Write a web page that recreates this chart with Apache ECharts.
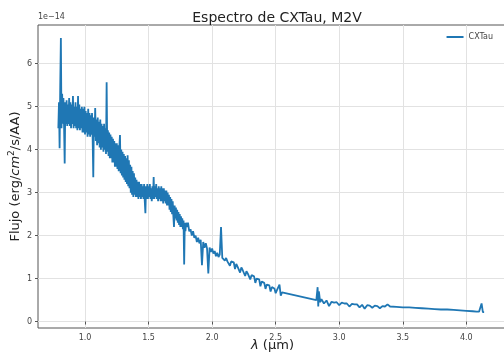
<!DOCTYPE html>
<html>
<head>
<meta charset="utf-8">
<script src="https://cdn.jsdelivr.net/npm/echarts@6/dist/echarts.min.js"></script>
<style>
  html, body { margin: 0; padding: 0; background: #fff; }
  #chart { width: 504px; height: 358px; }
</style>
</head>
<body>
<div id="chart"></div>
<script>
// Wavelength samples (µm) of the CXTau spectrum
const wavelength = [
  0.790, 0.795, 0.800, 0.805, 0.810, 0.815, 0.820, 0.825, 0.830, 0.835,
  0.840, 0.845, 0.850, 0.855, 0.860, 0.865, 0.870, 0.875, 0.880, 0.885,
  0.890, 0.895, 0.900, 0.905, 0.910, 0.915, 0.920, 0.925, 0.930, 0.935,
  0.940, 0.945, 0.950, 0.955, 0.960, 0.965, 0.970, 0.975, 0.980, 0.985,
  0.990, 0.995, 1.000, 1.005, 1.010, 1.015, 1.020, 1.025, 1.030, 1.035,
  1.040, 1.045, 1.050, 1.055, 1.060, 1.065, 1.070, 1.075, 1.080, 1.085,
  1.090, 1.095, 1.100, 1.105, 1.110, 1.115, 1.120, 1.125, 1.130, 1.135,
  1.140, 1.145, 1.150, 1.155, 1.160, 1.165, 1.170, 1.175, 1.180, 1.185,
  1.190, 1.195, 1.200, 1.205, 1.210, 1.215, 1.220, 1.225, 1.230, 1.235,
  1.240, 1.245, 1.250, 1.255, 1.260, 1.265, 1.270, 1.275, 1.280, 1.285,
  1.290, 1.295, 1.300, 1.305, 1.310, 1.315, 1.320, 1.325, 1.330, 1.335,
  1.340, 1.345, 1.350, 1.355, 1.360, 1.365, 1.370, 1.375, 1.380, 1.385,
  1.390, 1.395, 1.400, 1.405, 1.410, 1.415, 1.420, 1.425, 1.430, 1.435,
  1.440, 1.445, 1.450, 1.455, 1.460, 1.465, 1.470, 1.475, 1.480, 1.485,
  1.490, 1.495, 1.500, 1.505, 1.510, 1.515, 1.520, 1.525, 1.530, 1.535,
  1.540, 1.545, 1.550, 1.555, 1.560, 1.565, 1.570, 1.575, 1.580, 1.585,
  1.590, 1.595, 1.600, 1.605, 1.610, 1.615, 1.620, 1.625, 1.630, 1.635,
  1.640, 1.645, 1.650, 1.655, 1.660, 1.665, 1.670, 1.675, 1.680, 1.685,
  1.690, 1.695, 1.700, 1.705, 1.710, 1.715, 1.720, 1.725, 1.730, 1.735,
  1.740, 1.745, 1.750, 1.755, 1.760, 1.765, 1.770, 1.775, 1.780, 1.785,
  1.790, 1.795,
  1.80, 1.81, 1.82, 1.83, 1.84, 1.85, 1.86, 1.87, 1.88, 1.89,
  1.90, 1.91, 1.92, 1.93, 1.94, 1.95, 1.96, 1.97, 1.98, 1.99,
  2.00, 2.01, 2.02, 2.03, 2.04, 2.05, 2.06, 2.07, 2.08, 2.09,
  2.10, 2.11, 2.12, 2.13, 2.14, 2.15, 2.16, 2.17, 2.18, 2.19,
  2.20, 2.21, 2.22, 2.23, 2.24, 2.25, 2.26, 2.27, 2.28, 2.29,
  2.30, 2.31, 2.32, 2.33, 2.34, 2.35, 2.36, 2.37, 2.38, 2.39,
  2.40, 2.41, 2.42, 2.43, 2.44, 2.45, 2.46, 2.47, 2.48, 2.49,
  2.50, 2.51, 2.52, 2.53, 2.54, 2.55,
  2.82, 2.83, 2.835, 2.84, 2.85, 2.86, 2.88,
  2.90, 2.92, 2.94, 2.96, 2.98, 3.00, 3.02, 3.04, 3.06, 3.08,
  3.10, 3.12, 3.14, 3.16, 3.18, 3.20, 3.22, 3.24, 3.26, 3.28,
  3.30, 3.32, 3.34, 3.36, 3.38, 3.40, 3.45, 3.50, 3.55, 3.60,
  3.65, 3.70, 3.75, 3.80, 3.85, 3.90, 3.95, 4.00, 4.05, 4.08,
  4.10, 4.12, 4.13, 4.14
];

// Flux in units of 1e-14 erg/cm^2/s/AA
const flux = [
  4.50, 5.10, 4.03, 5.50, 6.60, 4.50, 5.30, 4.60, 5.20, 4.55,
  3.68, 5.10, 4.60, 5.15, 4.55, 5.05, 4.60, 5.20, 4.55, 5.10,
  4.50, 5.05, 4.60, 5.25, 4.50, 5.00, 4.55, 5.10, 4.50, 5.00,
  4.45, 5.25, 4.50, 5.05, 4.45, 4.95, 4.50, 5.00, 4.40, 4.95,
  4.40, 5.00, 4.35, 4.90, 4.40, 4.85, 4.30, 4.95, 4.35, 4.85,
  4.30, 4.80, 4.35, 4.85, 4.25, 3.36, 4.75, 4.30, 4.97, 4.20,
  4.70, 4.10, 4.75, 4.15, 4.65, 4.05, 4.70, 4.00, 4.60, 4.05,
  4.55, 3.95, 4.60, 4.00, 4.50, 3.90, 5.57, 3.95, 4.45, 3.85,
  4.40, 3.80, 4.35, 3.80, 4.30, 3.70, 4.25, 3.70, 4.20, 3.60,
  4.15, 3.60, 4.15, 3.55, 4.10, 3.50, 4.05, 4.34, 3.45, 4.00,
  3.40, 3.95, 3.35, 3.90, 3.30, 3.85, 3.25, 3.80, 3.20, 3.87,
  3.15, 3.75, 3.10, 3.65, 3.00, 3.60, 2.95, 3.50, 2.90, 3.45,
  2.95, 3.35, 2.90, 3.30, 2.90, 3.25, 2.85, 3.25, 2.90, 3.20,
  2.85, 3.20, 2.90, 3.15, 2.85, 3.20, 2.80, 2.52, 3.15, 2.85,
  3.20, 2.85, 3.15, 2.90, 3.20, 2.85, 3.10, 2.80, 3.15, 2.85,
  3.36, 2.85, 3.15, 2.90, 3.20, 2.85, 3.10, 2.80, 3.15, 2.85,
  3.10, 2.80, 3.15, 2.80, 3.10, 2.75, 3.10, 2.80, 3.05, 2.75,
  3.05, 2.70, 3.00, 2.70, 2.95, 2.60, 2.90, 2.55, 2.85, 2.50,
  2.80, 2.45, 2.20, 2.70, 2.40, 2.65, 2.35, 2.60, 2.30, 2.55,
  2.25, 2.50, 2.20, 2.45, 2.20, 2.40, 2.15, 2.35, 1.33, 2.30,
  2.10, 2.30,
  2.20, 2.30, 2.10, 2.15, 2.00, 2.10, 1.95, 2.00, 1.85, 1.95,
  1.82, 1.90, 1.31, 1.85, 1.72, 1.82, 1.70, 1.12, 1.72, 1.62,
  1.70, 1.58, 1.64, 1.52, 1.60, 1.50, 1.56, 2.20, 1.48, 1.52,
  1.42, 1.48, 1.40, 1.44, 1.30, 1.40, 1.36, 1.38, 1.22, 1.34,
  1.28, 1.30, 1.14, 1.26, 1.20, 1.22, 1.06, 1.17, 1.12, 1.14,
  0.98, 1.08, 1.04, 1.05, 0.90, 1.00, 0.96, 0.98, 0.82, 0.93,
  0.90, 0.90, 0.76, 0.86, 0.83, 0.84, 0.70, 0.80, 0.76, 0.77,
  0.66, 0.73, 0.70, 0.86, 0.60, 0.68,
  0.50, 0.80, 0.35, 0.70, 0.45, 0.52, 0.42,
  0.49, 0.36, 0.46, 0.44, 0.45, 0.38, 0.44, 0.42, 0.42, 0.35,
  0.41, 0.40, 0.40, 0.33, 0.39, 0.30, 0.38, 0.37, 0.32, 0.37,
  0.36, 0.31, 0.36, 0.35, 0.40, 0.35, 0.34, 0.33, 0.33, 0.32,
  0.31, 0.30, 0.29, 0.28, 0.28, 0.27, 0.26, 0.25, 0.24, 0.23,
  0.23, 0.42, 0.22, 0.22
];

const xTicks = [1.0, 1.5, 2.0, 2.5, 3.0, 3.5, 4.0];
const yTicks = [0, 1, 2, 3, 4, 5, 6];

const chart = echarts.init(document.getElementById('chart'), null, { renderer: 'canvas' });

const FONT = 'DejaVu Sans';
const BLUE = '#1f77b4';

chart.setOption({
  animation: false,
  backgroundColor: '#ffffff',
  textStyle: { fontFamily: FONT },
  title: {
    text: 'Espectro de CXTau, M2V',
    left: 272,
    textAlign: 'center',
    top: 6,
    textStyle: { fontFamily: FONT, fontSize: 14, fontWeight: 'normal', color: '#222' }
  },
  legend: {
    right: 6,
    top: 28,
    itemWidth: 17,
    itemHeight: 2,
    itemGap: 5,
    icon: 'rect',
    textStyle: { fontFamily: FONT, fontSize: 8, color: '#444' },
    data: [{ name: 'CXTau', itemStyle: { color: BLUE } }]
  },
  grid: {
    left: 38, top: 25, width: 469, height: 303,
    show: true, borderColor: '#555', borderWidth: 1,
    containLabel: false,
    outerBoundsMode: 'none'
  },
  xAxis: {
    type: 'value',
    min: 0.63,
    max: 4.32,
    name: '{i|λ} (μm)',
    nameLocation: 'middle',
    nameGap: 11,
    nameMoveOverlap: false,
    nameTextStyle: {
      fontFamily: FONT, fontSize: 13, color: '#222',
      rich: { i: { fontFamily: FONT, fontSize: 13, fontStyle: 'italic', color: '#222' } }
    },
    axisLine: { show: false },
    axisTick: { show: true, length: 3, customValues: xTicks, lineStyle: { color: '#555' } },
    axisLabel: {
      customValues: xTicks, fontSize: 8, color: '#444', margin: 6,
      formatter: v => v.toFixed(1)
    },
    splitLine: { show: true, lineStyle: { color: '#e2e2e2', width: 1 } }
  },
  yAxis: {
    type: 'value',
    min: -0.15,
    max: 6.9,
    name: 'Flujo (erg/{i|cm}{s|2}/s/AA)',
    nameLocation: 'middle',
    nameGap: 14,
    nameRotate: 90,
    nameMoveOverlap: false,
    nameTextStyle: {
      fontFamily: FONT, fontSize: 13, color: '#222',
      rich: {
        i: { fontFamily: FONT, fontSize: 13, fontStyle: 'italic', color: '#222' },
        s: { fontFamily: FONT, fontSize: 9, color: '#222', verticalAlign: 'bottom', padding: [0, 0, 8, 0] }
      }
    },
    axisLine: { show: false },
    axisTick: { show: true, length: 3, customValues: yTicks, lineStyle: { color: '#555' } },
    axisLabel: { customValues: yTicks, fontSize: 8, color: '#444', margin: 6 },
    splitLine: { show: true, lineStyle: { color: '#e2e2e2', width: 1 } }
  },
  graphic: [{
    type: 'text',
    left: 38,
    top: 13,
    style: { text: '1e\u221214', fontFamily: FONT, fontSize: 8, fill: '#444' }
  }],
  series: [{
    name: 'CXTau',
    type: 'line',
    data: wavelength.map((w, i) => [w, flux[i]]),
    showSymbol: false,
    symbol: 'none',
    lineStyle: { color: BLUE, width: 1.8 },
    itemStyle: { color: BLUE },
    z: 3
  }]
});
</script>
</body>
</html>
